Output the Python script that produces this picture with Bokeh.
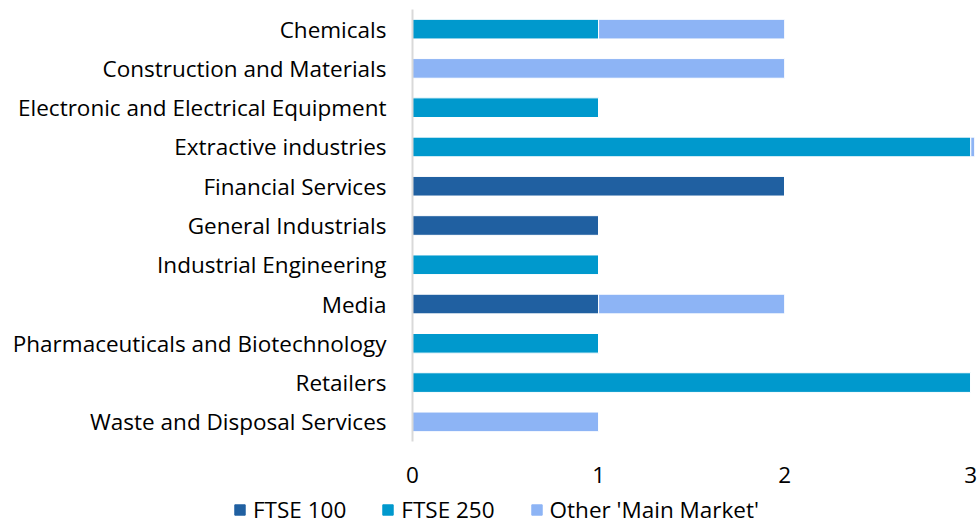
from bokeh.plotting import figure
from bokeh.layouts import column
from bokeh.models import FactorRange, Range1d, FixedTicker, Legend, LegendItem, ColumnDataSource
from bokeh.embed import file_html
from bokeh.resources import INLINE

categories = ["Chemicals", "Construction and Materials", "Electronic and Electrical Equipment",
              "Extractive industries", "Financial Services", "General Industrials",
              "Industrial Engineering", "Media", "Pharmaceuticals and Biotechnology",
              "Retailers", "Waste and Disposal Services"]
ftse100 = [0, 0, 0, 0, 2, 1, 0, 1, 0, 0, 0]
ftse250 = [1, 0, 1, 3, 0, 0, 1, 0, 1, 3, 0]
other = [1, 2, 0, 1, 0, 0, 0, 1, 0, 0, 1]
series = ["FTSE 100", "FTSE 250", "Other 'Main Market'"]
colors = ["#2060a1", "#0099cd", "#8db4f5"]
x_ticks = [0, 1, 2, 3]

source = ColumnDataSource(dict(cat=categories, s100=ftse100, s250=ftse250, oth=other))

FONT = "Open Sans"
FS = "22.5px"
p = figure(width=977, height=490, output_backend="svg", toolbar_location=None,
           y_range=FactorRange(factors=list(reversed(categories)), range_padding=0),
           x_range=Range1d(0, 3.02),
           min_border_left=412, min_border_right=3, min_border_top=9, min_border_bottom=49)
p.outline_line_color = None
p.grid.visible = False

rs = p.hbar_stack(["s100", "s250", "oth"], y="cat", height=0.5, color=colors,
                  line_color="white", line_width=1, source=source)

p.xaxis.ticker = FixedTicker(ticks=x_ticks)
p.xaxis.axis_line_color = None
p.xaxis.major_tick_line_color = None
p.xaxis.minor_tick_line_color = None
p.xaxis.major_label_standoff = 19
p.xaxis.major_label_text_font = FONT
p.xaxis.major_label_text_font_size = FS
p.xaxis.major_label_text_color = "black"

p.yaxis.axis_line_color = "#d9d9d9"
p.yaxis.axis_line_width = 2
p.yaxis.major_tick_line_color = None
p.yaxis.minor_tick_line_color = None
p.yaxis.major_label_standoff = 20
p.yaxis.major_label_text_font = FONT
p.yaxis.major_label_text_font_size = FS
p.yaxis.major_label_text_color = "black"

# legend strip below the chart
p2 = figure(width=977, height=36, output_backend="svg", toolbar_location=None,
            min_border=0, x_range=Range1d(0, 1), y_range=Range1d(0, 1))
p2.frame_align = False
p2.outline_line_color = None
p2.axis.visible = False
p2.grid.visible = False
nan = float("nan")
swatches = [p2.hbar(y=[nan], right=[nan], height=1, color=c) for c in colors]
legend = Legend(items=[LegendItem(label=s, renderers=[r]) for s, r in zip(series, swatches)],
                orientation="horizontal", location=(233, 1),
                glyph_width=13, glyph_height=13, label_standoff=7, spacing=35,
                padding=0, margin=0, border_line_color=None, background_fill_alpha=0,
                label_text_font=FONT, label_text_font_size=FS, label_text_color="black")
p2.add_layout(legend, "center")

layout = column(p, p2, spacing=0)
open("out.html", "w").write(file_html(layout, INLINE))
